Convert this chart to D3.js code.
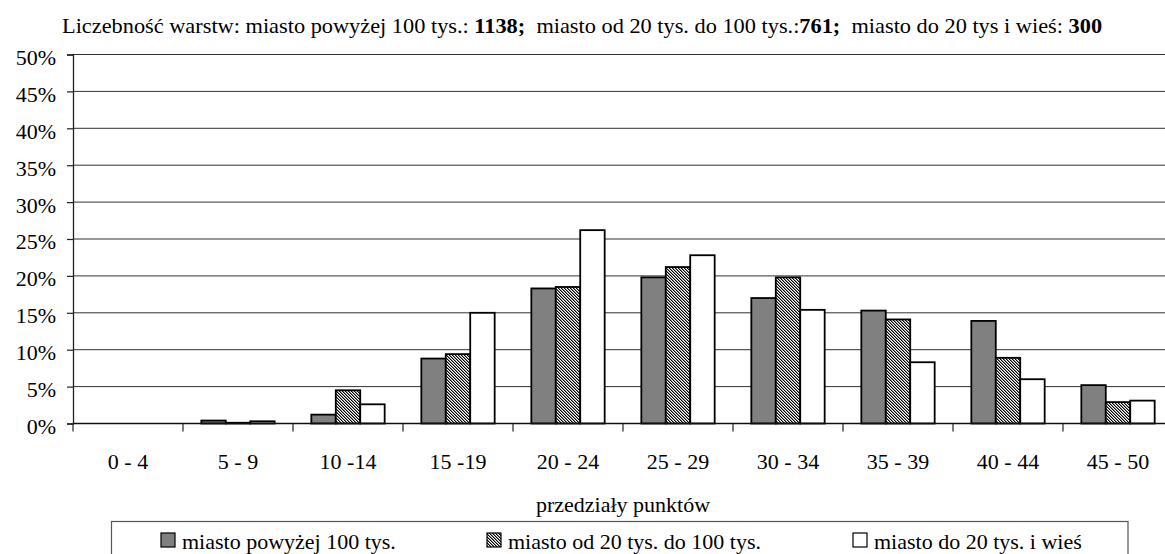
<!DOCTYPE html>
<html>
<head>
<meta charset="utf-8">
<script src="https://cdn.jsdelivr.net/npm/d3@7"></script>
<style>
  html, body { margin: 0; padding: 0; background: #fff; }
  svg { display: block; font-family: "Liberation Serif", "Times New Roman", serif; }
</style>
</head>
<body>
<svg id="chart" width="1165" height="554"></svg>
<script>
// Score ranges (x categories)
const categories = ["0 - 4", "5 - 9", "10 -14", "15 -19", "20 - 24", "25 - 29", "30 - 34", "35 - 39", "40 - 44", "45 - 50"];
// Series names
const seriesNames = ["miasto powyżej 100 tys.", "miasto od 20 tys. do 100 tys.", "miasto do 20 tys. i wieś"];
// Percent of respondents in each range
const bigCity   = [0, 0.4, 1.2, 8.8, 18.3, 19.8, 17.0, 15.3, 13.9, 5.2];
const midCity   = [0, 0.1, 4.5, 9.4, 18.5, 21.2, 19.8, 14.1, 8.9, 2.9];
const smallTown = [0, 0.3, 2.6, 15.0, 26.2, 22.8, 15.4, 8.3, 6.0, 3.1];
// Y axis ticks
const yTicks = [0, 5, 10, 15, 20, 25, 30, 35, 40, 45, 50];
// Stratum sizes for the heading
const stratumSizes = ["1138", "761", "300"];

const seriesValues = [bigCity, midCity, smallTown];
const FONT = "Liberation Serif, Times New Roman, serif";

const svg = d3.select("#chart");
const defs = svg.append("defs");
// Fine diagonal hatch on a 3px repeat
const hatch = defs.append("pattern")
  .attr("id", "hatch")
  .attr("patternUnits", "userSpaceOnUse")
  .attr("width", 3).attr("height", 3);
hatch.append("rect").attr("width", 3).attr("height", 3).attr("fill", "#fff");
const cells = [];
for (let py = 0; py < 3; py++) {
  for (let px = 0; px < 3; px++) {
    if (((px - py) % 3 + 3) % 3 === 0) cells.push([px, py]);
  }
}
hatch.selectAll("rect.px")
  .data(cells)
  .join("rect")
  .attr("class", "px")
  .attr("x", d => d[0]).attr("y", d => d[1])
  .attr("width", 1).attr("height", 1)
  .attr("fill", "#000")
  .attr("shape-rendering", "crispEdges");
hatch.selectAll("rect.px2")
  .data(cells)
  .join("rect")
  .attr("class", "px2")
  .attr("x", d => (d[0] + 1) % 3).attr("y", d => d[1])
  .attr("width", 1).attr("height", 1)
  .attr("fill", "#888")
  .attr("shape-rendering", "crispEdges");

const fills = ["#808080", "url(#hatch)", "#ffffff"];

const plot = { left: 73, right: 1173, top: 54.5, bottom: 423.5 };

const x0 = d3.scaleBand().domain(categories).range([plot.left, plot.right]).paddingInner(0).paddingOuter(0);
const x1 = d3.scaleBand().domain(seriesNames).range([0, x0.bandwidth()]).paddingInner(0).paddingOuter(0.75);
const y = d3.scaleLinear().domain([0, 50]).range([plot.bottom, plot.top]);

// Heading
const title = svg.append("text")
  .attr("x", 62).attr("y", 33)
  .attr("font-family", FONT)
  .attr("font-size", 20)
  .attr("fill", "#000")
  .attr("xml:space", "preserve");
title.append("tspan").text("Liczebność warstw: miasto powyżej 100 tys.: ");
title.append("tspan").attr("font-weight", "bold").text(stratumSizes[0] + ";");
title.append("tspan").text("  miasto od 20 tys. do 100 tys.:");
title.append("tspan").attr("font-weight", "bold").text(stratumSizes[1] + ";");
title.append("tspan").text("  miasto do 20 tys i wieś: ");
title.append("tspan").attr("font-weight", "bold").text(stratumSizes[2]);
const tw = title.node().getComputedTextLength();
const sx = (1103 - 62) / tw;
title.attr("transform", `translate(62,0) scale(${sx},1) translate(-62,0)`);

// Horizontal gridlines
svg.append("g").selectAll("line")
  .data(yTicks)
  .join("line")
  .attr("x1", plot.left).attr("x2", plot.right)
  .attr("y1", d => y(d)).attr("y2", d => y(d))
  .attr("stroke", "#333").attr("stroke-width", 1);

// Y axis
const yAxis = svg.append("g")
  .attr("transform", `translate(${plot.left},0)`)
  .call(d3.axisLeft(y).tickValues(yTicks).tickFormat(d => d + "%").tickSize(6).tickPadding(11));
yAxis.attr("font-family", FONT);
yAxis.select(".domain").attr("stroke", "#222").attr("stroke-width", 1.3);
yAxis.selectAll(".tick line").attr("stroke", "#222").attr("stroke-width", 1.2);
yAxis.selectAll(".tick text")
  .attr("font-family", FONT)
  .attr("font-size", 22).attr("fill", "#000")
  .attr("dy", "0.45em");

// Bars
const groups = svg.append("g").selectAll("g")
  .data(categories)
  .join("g")
  .attr("transform", d => `translate(${x0(d)},0)`);
groups.selectAll("rect")
  .data((c, i) => seriesNames.map((s, k) => ({ s, k, v: seriesValues[k][i] })))
  .join("rect")
  .filter(d => d.v > 0)
  .attr("x", d => x1(d.s))
  .attr("width", x1.bandwidth())
  .attr("y", d => y(d.v))
  .attr("height", d => y(0) - y(d.v))
  .attr("fill", d => fills[d.k])
  .attr("stroke", "#000").attr("stroke-width", 1.8);

// X axis
const xAxis = svg.append("g")
  .attr("transform", `translate(0,${plot.bottom})`)
  .call(d3.axisBottom(x0).tickSize(0).tickPadding(30));
xAxis.attr("font-family", FONT);
xAxis.select(".domain").remove();
xAxis.selectAll(".tick text")
  .attr("font-family", FONT)
  .attr("font-size", 22).attr("fill", "#000");
svg.append("line")
  .attr("x1", plot.left).attr("x2", plot.right)
  .attr("y1", plot.bottom).attr("y2", plot.bottom)
  .attr("stroke", "#111").attr("stroke-width", 1.3);
// Category boundary ticks
svg.append("g").selectAll("line")
  .data(categories.map(c => x0(c)).concat([plot.right]))
  .join("line")
  .attr("x1", d => d).attr("x2", d => d)
  .attr("y1", plot.bottom).attr("y2", plot.bottom + 8)
  .attr("stroke", "#222").attr("stroke-width", 1.2);

// X axis title
svg.append("text")
  .attr("x", (plot.left + plot.right) / 2).attr("y", 512)
  .attr("text-anchor", "middle")
  .attr("font-family", FONT)
  .attr("font-size", 22)
  .text("przedziały punktów");

// Legend
svg.append("rect")
  .attr("x", 111.5).attr("y", 521.5)
  .attr("width", 1016.5).attr("height", 60)
  .attr("fill", "#fff").attr("stroke", "#555").attr("stroke-width", 1.2);
const legendX = [161, 487, 853];
const items = svg.append("g").selectAll("g")
  .data(seriesNames)
  .join("g")
  .attr("transform", (d, i) => `translate(${legendX[i]},0)`);
items.append("rect")
  .attr("x", 0).attr("y", 533)
  .attr("width", 14).attr("height", 14)
  .attr("fill", (d, i) => fills[i])
  .attr("stroke", "#000").attr("stroke-width", 1.2);
items.append("text")
  .attr("x", 21).attr("y", 549)
  .attr("font-family", FONT)
  .attr("font-size", 22)
  .text(d => d);
</script>
</body>
</html>
